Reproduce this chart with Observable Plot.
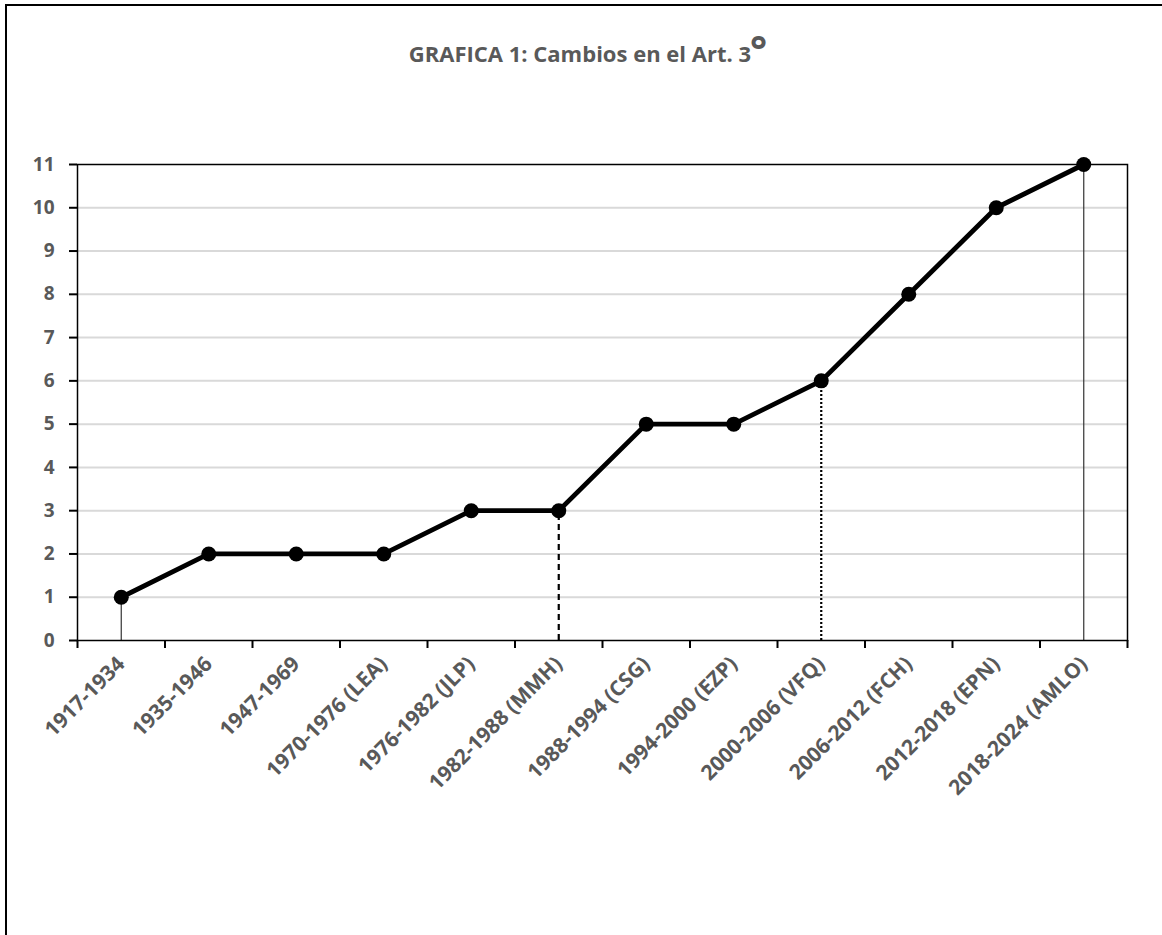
<!DOCTYPE html>
<html>
<head>
<meta charset="utf-8">
<script src="https://cdn.jsdelivr.net/npm/d3@7"></script>
<script src="https://cdn.jsdelivr.net/npm/@observablehq/plot@0.6"></script>
<style>
  html, body { margin: 0; padding: 0; background: #fff; }
  #wrap { position: relative; width: 1162px; height: 935px; overflow: hidden; }
  #border { position: absolute; left: 5px; top: 4px; width: 1200px; height: 1000px;
            border-top: 2px solid #000; border-left: 2px solid #000; }
  #title { position: absolute; top: 40px; left: 588px; transform: translateX(-50%);
           font-family: "Open Sans", sans-serif; font-weight: bold; font-size: 22px;
           color: #595959; white-space: nowrap; line-height: 26px; }
  #title .deg { font-size: 40px; position: relative; top: 2px; line-height: 0; margin-left: -1px; }
  #chart { position: absolute; left: 0; top: 0; }
</style>
</head>
<body>
<div id="wrap">
  <div id="border"></div>
  <div id="chart"></div>
  <div id="title">GRAFICA 1: Cambios en el Art. 3<span class="deg">°</span></div>
</div>
<script>
const categories = [
  "1917-1934", "1935-1946", "1947-1969", "1970-1976 (LEA)", "1976-1982 (JLP)",
  "1982-1988 (MMH)", "1988-1994 (CSG)", "1994-2000 (EZP)", "2000-2006 (VFQ)",
  "2006-2012 (FCH)", "2012-2018 (EPN)", "2018-2024 (AMLO)"
];
const changes = [1, 2, 2, 2, 3, 3, 5, 5, 6, 8, 10, 11];
const yTicks = [0, 1, 2, 3, 4, 5, 6, 7, 8, 9, 10, 11];
const dropSolid = ["1917-1934", "2018-2024 (AMLO)"];
const dropDashed = ["1982-1988 (MMH)"];
const dropDotted = ["2000-2006 (VFQ)"];

const data = categories.map((c, i) => ({i, c, v: changes[i]}));
const drops = list => data.filter(d => list.includes(d.c));
const boundaries = d3.range(categories.length + 1).map(k => k - 0.5);

const chart = Plot.plot({
  width: 1162,
  height: 935,
  marginLeft: 77,
  marginRight: 35,
  marginTop: 164,
  marginBottom: 295,
  style: {fontFamily: "'Open Sans', sans-serif", fontWeight: "bold", color: "#595959", background: "transparent"},
  x: {type: "linear", domain: [-0.5, categories.length - 0.5]},
  y: {domain: [0, 11]},
  marks: [
    Plot.gridY(yTicks.filter(t => t > 0 && t < 11), {stroke: "#d9d9d9", strokeOpacity: 1, strokeWidth: 2}),
    Plot.ruleX(drops(dropSolid), {x: "i", y1: 0, y2: "v", stroke: "#333", strokeWidth: 1.2}),
    Plot.ruleX(drops(dropDashed), {x: "i", y1: 0, y2: "v", stroke: "#000", strokeWidth: 2.2, strokeDasharray: "6,4"}),
    Plot.ruleX(drops(dropDotted), {x: "i", y1: 0, y2: "v", stroke: "#000", strokeWidth: 2.2, strokeDasharray: "2,2"}),
    Plot.frame({stroke: "#000", strokeWidth: 1.5}),
    Plot.axisY({ticks: yTicks, tickSize: 8, tickPadding: 15, fontSize: 19, fontWeight: "bold", fill: "#595959", stroke: "#000", strokeWidth: 2, label: null}),
    Plot.axisX({ticks: boundaries, tickSize: 8, tickFormat: () => "", stroke: "#000", strokeWidth: 2, label: null}),
    Plot.axisX({ticks: d3.range(categories.length), tickSize: 0, tickPadding: 20, tickRotate: -45,
                tickFormat: i => categories[i], fontSize: 21, fontWeight: "bold", fill: "#595959", label: null}),
    Plot.line(data, {x: "i", y: "v", stroke: "#000", strokeWidth: 4.8}),
    Plot.dot(data, {x: "i", y: "v", r: 7.5, fill: "#000"})
  ]
});
document.getElementById("chart").appendChild(chart);
</script>
</body>
</html>
